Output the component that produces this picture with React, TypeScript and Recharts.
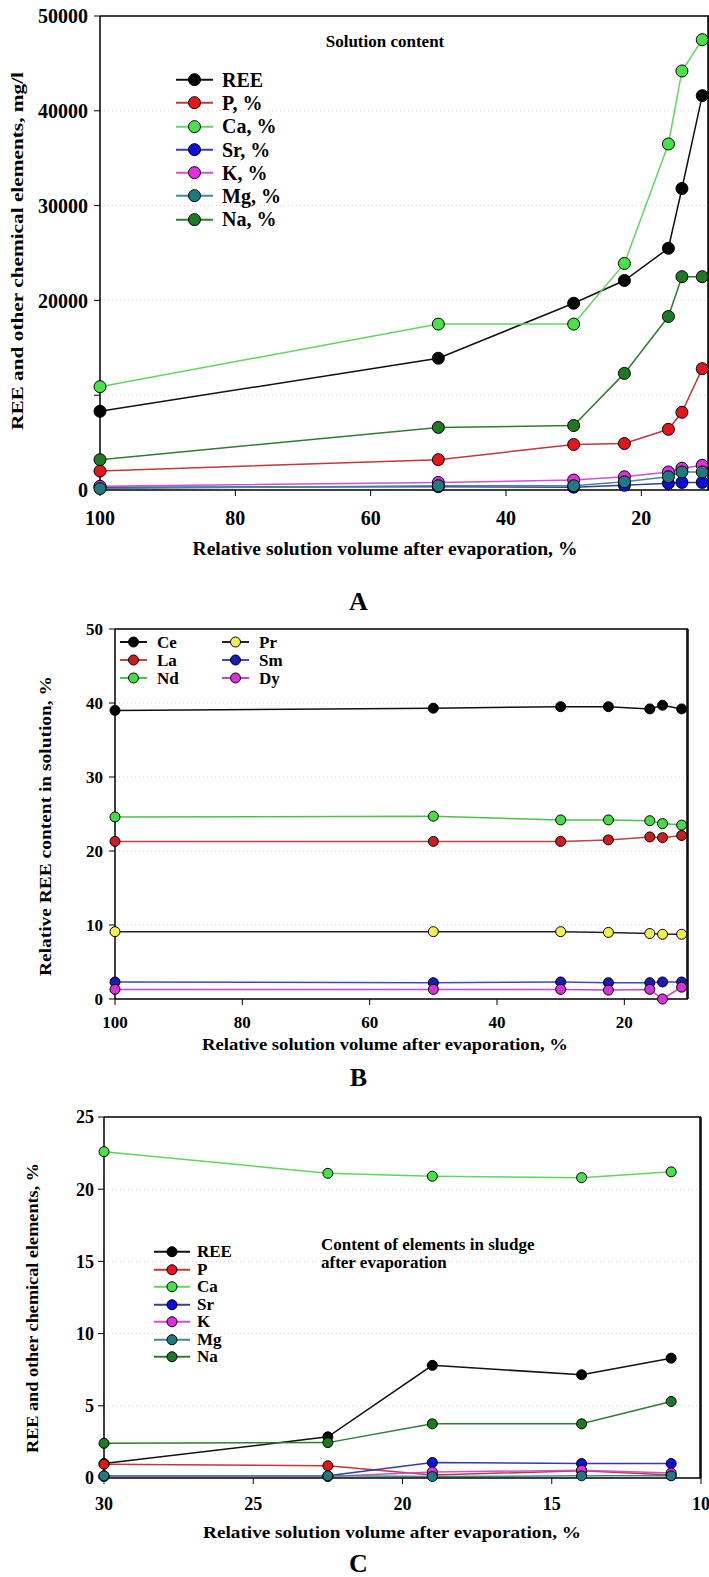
import { CartesianGrid, Label, Line, LineChart, ReferenceLine, XAxis, YAxis } from "recharts";

const SERIF = "'Liberation Serif', 'Times New Roman', serif";

// A: solution content, mg/l
const volumeA = [100, 50, 30, 22.5, 16, 14, 11];
const reeA = [8300, 13900, 19700, 22100, 25500, 31800, 41600];
const pA = [2000, 3200, 4800, 4900, 6400, 8200, 12800];
const caA = [10900, 17500, 17500, 23900, 36500, 44200, 47500];
const srA = [300, 350, 300, 500, 700, 800, 800];
const kA = [400, 800, 1050, 1400, 1900, 2300, 2600];
const mgA = [150, 450, 450, 870, 1400, 1900, 1900];
const naA = [3200, 6600, 6800, 12300, 18300, 22500, 22500];
const xTicksA = [100, 80, 60, 40, 20];
const yTicksA = [0, 10000, 20000, 30000, 40000, 50000];
const yMinorA = Array.from({ length: 26 }, (_, i) => i * 2000);

// B: relative REE content in solution, %
const volumeB = [100, 50, 30, 22.5, 16, 14, 11];
const ceB = [39.0, 39.3, 39.5, 39.5, 39.2, 39.7, 39.2];
const laB = [21.3, 21.3, 21.3, 21.5, 21.9, 21.8, 22.1];
const ndB = [24.6, 24.7, 24.2, 24.2, 24.1, 23.7, 23.5];
const prB = [9.1, 9.1, 9.1, 9.0, 8.85, 8.75, 8.75];
const smB = [2.3, 2.2, 2.3, 2.2, 2.2, 2.3, 2.3];
const dyB = [1.3, 1.3, 1.3, 1.2, 1.3, 0.0, 1.6];
const xTicksB = [100, 80, 60, 40, 20];
const yTicksB = [0, 10, 20, 30, 40, 50];
const yMinorB = Array.from({ length: 26 }, (_, i) => i * 2);

// C: sludge after evaporation, %
const volumeC = [30, 22.5, 19, 14, 11];
const reeC = [1.0, 2.85, 7.8, 7.15, 8.3];
const pC = [0.95, 0.85, 0.2, 0.5, 0.2];
const caC = [22.6, 21.1, 20.9, 20.8, 21.2];
const srC = [0.15, 0.15, 1.07, 1.0, 1.0];
const kC = [0.1, 0.1, 0.42, 0.53, 0.35];
const mgC = [0.15, 0.15, 0.1, 0.15, 0.15];
const naC = [2.4, 2.45, 3.75, 3.75, 5.3];
const xTicksC = [30, 25, 20, 15, 10];
const yTicksC = [0, 5, 10, 15, 20, 25];
const yMinorC = Array.from({ length: 26 }, (_, i) => i);

const C = {
  black: { line: "#111111", fill: "#050505" },
  red: { line: "#c0393b", fill: "#e3161a" },
  green: { line: "#5fd65f", fill: "#47e247" },
  blue: { line: "#3a3aa6", fill: "#0d0de0" },
  magenta: { line: "#d24fd2", fill: "#e02ee0" },
  teal: { line: "#3a8f94", fill: "#1d7a80" },
  dark: { line: "#2f7d32", fill: "#1e7a22" },
  yellow: { line: "#222222", fill: "#f3ef4c" },
};

type Series = { key: string; name: string; values: number[]; line: string; fill: string };

const seriesA: Series[] = [
  { key: "REE", name: "REE", values: reeA, ...C.black },
  { key: "P", name: "P, %", values: pA, ...C.red },
  { key: "Ca", name: "Ca, %", values: caA, ...C.green },
  { key: "Sr", name: "Sr, %", values: srA, ...C.blue },
  { key: "K", name: "K, %", values: kA, ...C.magenta },
  { key: "Mg", name: "Mg, %", values: mgA, ...C.teal },
  { key: "Na", name: "Na, %", values: naA, ...C.dark },
];

const seriesB: Series[] = [
  { key: "Ce", name: "Ce", values: ceB, ...C.black },
  { key: "La", name: "La", values: laB, line: "#b84444", fill: "#cc1c22" },
  { key: "Nd", name: "Nd", values: ndB, line: "#4cc24c", fill: "#46dc46" },
  { key: "Pr", name: "Pr", values: prB, ...C.yellow },
  { key: "Sm", name: "Sm", values: smB, line: "#4545c0", fill: "#1a1ab4" },
  { key: "Dy", name: "Dy", values: dyB, line: "#c445c4", fill: "#d632d6" },
];

const seriesC: Series[] = [
  { key: "REE", name: "REE", values: reeC, ...C.black },
  { key: "P", name: "P", values: pC, ...C.red },
  { key: "Ca", name: "Ca", values: caC, ...C.green },
  { key: "Sr", name: "Sr", values: srC, ...C.blue },
  { key: "K", name: "K", values: kC, ...C.magenta },
  { key: "Mg", name: "Mg", values: mgC, ...C.teal },
  { key: "Na", name: "Na", values: naC, ...C.dark },
];

function rowsOf(xs: number[], series: Series[]) {
  return xs.map((x, i) => {
    const row: Record<string, number> = { x };
    series.forEach((s) => (row[s.key] = s.values[i]));
    return row;
  });
}

type Title = { text: string; x: number; y: number; size: number; len: number };

type PanelProps = {
  top: number;
  height: number;
  margin: { top: number; right: number; bottom: number; left: number };
  xs: number[];
  series: Series[];
  xDomain: [number, number];
  xTicks: number[];
  xHeight: number;
  xTickMargin: number;
  yDomain: [number, number];
  yTicks: number[];
  yMinor: number[];
  yWidth: number;
  yTickMargin: number;
  hideY?: number[];
  tickFont: number;
  dotR: number;
  xTitle: Title;
  yTitle: Title;
};

function Panel(p: PanelProps) {
  const data = rowsOf(p.xs, p.series);
  const tick = { fontSize: p.tickFont, fontWeight: 700, fill: "#000", fontFamily: SERIF };
  const axisLine = { stroke: "#000", strokeWidth: 1.5 };
  return (
    <div style={{ position: "absolute", left: 0, top: p.top, width: 709, height: p.height }}>
      <LineChart width={709} height={p.height} data={data} margin={p.margin}>
        <CartesianGrid vertical={false} stroke="#cfcfcf" strokeDasharray="1 3" />
        <XAxis dataKey="x" type="number" domain={p.xDomain} reversed ticks={p.xTicks} interval={0} height={p.xHeight}
          tickSize={6} tickMargin={p.xTickMargin} axisLine={axisLine} tickLine={{ stroke: "#000" }} tick={tick}>
          <Label content={() => (
            <text x={p.xTitle.x} y={p.xTitle.y} textAnchor="middle" fontFamily={SERIF} fontWeight={700} fontSize={p.xTitle.size}
              textLength={p.xTitle.len} lengthAdjust="spacingAndGlyphs">{p.xTitle.text}</text>
          )} />
        </XAxis>
        <YAxis type="number" domain={p.yDomain} ticks={p.yTicks} interval={0} width={p.yWidth} tickSize={6} tickMargin={p.yTickMargin}
          axisLine={axisLine} tickLine={{ stroke: "#000" }} tick={tick}
          tickFormatter={(v: number) => (p.hideY && p.hideY.includes(v) ? "" : String(v))}>
          <Label content={() => (
            <text x={p.yTitle.x} y={p.yTitle.y} transform={`rotate(-90 ${p.yTitle.x} ${p.yTitle.y})`} textAnchor="middle"
              dominantBaseline="central" fontFamily={SERIF} fontWeight={700} fontSize={p.yTitle.size}
              textLength={p.yTitle.len} lengthAdjust="spacingAndGlyphs">{p.yTitle.text}</text>
          )} />
        </YAxis>
        <YAxis yAxisId="minor" orientation="right" mirror domain={p.yDomain} ticks={p.yMinor} interval={0} width={1}
          tickSize={4} tickFormatter={() => ""} axisLine={axisLine} tickLine={{ stroke: "#000" }} />
        <YAxis yAxisId="major" orientation="right" mirror domain={p.yDomain} ticks={p.yTicks} interval={0} width={1}
          tickSize={8} tickFormatter={() => ""} axisLine={false} tickLine={{ stroke: "#000" }} />
        <ReferenceLine y={p.yDomain[1]} stroke="#000" strokeWidth={1.5} />
        <ReferenceLine x={p.xDomain[0]} stroke="#000" strokeWidth={1.5} />
        {p.series.map((s) => (
          <Line key={s.key} type="linear" dataKey={s.key} stroke={s.line} strokeWidth={1.5} activeDot={false}
            dot={{ r: p.dotR, fill: s.fill, stroke: "#000", strokeWidth: 1 }} isAnimationActive={false} />
        ))}
      </LineChart>
    </div>
  );
}

function LegendRows({ items, left, top, rowH, font, lineW, gap, r }: {
  items: Series[]; left: number; top: number; rowH: number; font: number; lineW: number; gap: number; r: number;
}) {
  return (
    <div style={{ position: "absolute", left, top, fontFamily: SERIF, fontWeight: 700, fontSize: font }}>
      {items.map((s) => (
        <div key={s.key} style={{ display: "flex", alignItems: "center", height: rowH }}>
          <svg width={lineW} height={rowH}>
            <line x1={0} x2={lineW} y1={rowH / 2} y2={rowH / 2} stroke={s.line} strokeWidth={2} />
            <circle cx={lineW / 2} cy={rowH / 2} r={r} fill={s.fill} stroke="#000" />
          </svg>
          <span style={{ marginLeft: gap, lineHeight: 1 }}>{s.name}</span>
        </div>
      ))}
    </div>
  );
}

const letter = (t: string, y: number) => (
  <div style={{ position: "absolute", left: 0, width: 717, top: y - 14, textAlign: "center", fontFamily: SERIF, fontWeight: 700, fontSize: 26, lineHeight: "28px" }}>{t}</div>
);

const xLabel = "Relative solution volume after evaporation, %";

export default function App() {
  return (
    <div style={{ position: "absolute", left: 0, top: 0, width: 709, height: 1577, background: "#fff" }}>
      <Panel top={0} height={590} margin={{ top: 16, right: 0, bottom: 40, left: 0 }} xs={volumeA} series={seriesA}
        xDomain={[10, 100]} xTicks={xTicksA} xHeight={60} xTickMargin={15}
        yDomain={[0, 50000]} yTicks={yTicksA} yMinor={yMinorA} yWidth={100} yTickMargin={6} hideY={[10000]}
        tickFont={20} dotR={6}
        xTitle={{ text: xLabel, x: 385, y: 555, size: 19, len: 385 }}
        yTitle={{ text: "REE and other chemical elements, mg/l", x: 17, y: 251, size: 16, len: 358 }} />
      <div style={{ position: "absolute", left: 385, top: 32, transform: "translateX(-50%)", fontFamily: SERIF, fontWeight: 700, fontSize: 17, whiteSpace: "nowrap" }}>Solution content</div>
      <LegendRows items={seriesA} left={176} top={68} rowH={23.3} font={20} lineW={37} gap={9} r={6} />
      {letter("A", 602)}

      <Panel top={610} height={460} margin={{ top: 19, right: 21, bottom: 21, left: 0 }} xs={volumeB} series={seriesB}
        xDomain={[10, 100]} xTicks={xTicksB} xHeight={50} xTickMargin={11}
        yDomain={[0, 50]} yTicks={yTicksB} yMinor={yMinorB} yWidth={115} yTickMargin={6}
        tickFont={17} dotR={5}
        xTitle={{ text: xLabel, x: 385, y: 440, size: 16, len: 366 }}
        yTitle={{ text: "Relative REE content in solution, %", x: 45, y: 216, size: 16, len: 300 }} />
      <LegendRows items={seriesB.slice(0, 3)} left={120} top={633} rowH={18} font={17} lineW={27} gap={10} r={5} />
      <LegendRows items={seriesB.slice(3)} left={222} top={633} rowH={18} font={17} lineW={27} gap={10} r={5} />
      {letter("B", 1078)}

      <Panel top={1090} height={487} margin={{ top: 27, right: 8, bottom: 39, left: 0 }} xs={volumeC} series={seriesC}
        xDomain={[10, 30]} xTicks={xTicksC} xHeight={60} xTickMargin={13}
        yDomain={[0, 25]} yTicks={yTicksC} yMinor={yMinorC} yWidth={104} yTickMargin={4}
        tickFont={18} dotR={5}
        xTitle={{ text: xLabel, x: 392, y: 448, size: 16, len: 378 }}
        yTitle={{ text: "REE and other chemical elements, %", x: 32, y: 218, size: 16, len: 290 }} />
      <div style={{ position: "absolute", left: 321, top: 1236, fontFamily: SERIF, fontWeight: 700, fontSize: 17, lineHeight: "18px" }}>
        Content of elements in sludge<br />after evaporation
      </div>
      <LegendRows items={seriesC} left={154} top={1243} rowH={17.5} font={17} lineW={36} gap={7} r={5} />
      {letter("C", 1564)}
    </div>
  );
}
